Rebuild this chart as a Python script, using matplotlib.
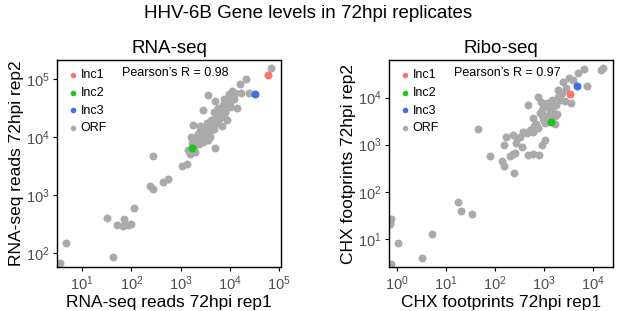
import numpy as np
import matplotlib
matplotlib.use('Agg')
from matplotlib import pyplot as plt
from matplotlib.ticker import LogLocator, NullLocator

plt.rcParams['font.family'] = ['Liberation Sans', 'DejaVu Sans']
plt.rcParams['mathtext.default'] = 'regular'

# log10 values
# RNA-seq: (rep1, rep2)
rna_inc1 = (4.77, 5.07)
rna_inc2 = (3.24, 3.81)
rna_inc3 = (4.52, 4.74)
rna_orf_rep1 = [4.83, 4.33, 4.21, 4.04, 3.99, 4.23, 4.40, 4.11, 3.55, 3.70, 3.89, 4.08,
                4.01, 4.14, 3.91, 3.67, 3.45, 3.77, 3.80, 3.94, 3.53, 3.40, 3.26, 3.84,
                3.21, 3.40, 3.53, 3.60, 3.67, 3.33, 3.46, 3.69, 3.16, 3.19, 2.43, 3.02,
                3.14, 2.75, 2.65, 2.38, 2.43, 2.06, 1.51, 1.85, 1.70, 1.84, 1.94, 1.99,
                0.68, 1.62, 0.56, 3.28, 3.30, 3.36, 3.45, 3.50, 3.57, 3.62, 3.72, 3.75,
                3.82, 3.86, 3.95, 4.05, 3.58, 3.48, 3.38, 3.24, 3.30, 3.63, 3.70, 3.88,
                4.00, 3.55, 3.42]
rna_orf_rep2 = [5.20, 5.00, 4.91, 4.79, 4.74, 4.76, 4.76, 4.76, 4.73, 4.62, 4.65, 4.65,
                4.58, 4.51, 4.43, 4.43, 4.46, 4.51, 4.33, 4.29, 4.25, 4.20, 4.21, 4.20,
                4.00, 4.11, 4.11, 4.00, 4.14, 3.94, 3.91, 3.81, 3.77, 3.71, 3.68, 3.50,
                3.53, 3.28, 3.22, 3.15, 3.11, 2.77, 2.61, 2.58, 2.48, 2.47, 2.49, 2.50,
                2.18, 1.93, 1.83, 3.85, 3.98, 4.05, 4.02, 4.15, 4.20, 4.30, 4.36, 4.25,
                4.45, 4.55, 4.60, 4.70, 4.06, 4.10, 3.88, 3.90, 3.75, 4.18, 4.28, 4.38,
                4.52, 3.95, 3.98]

# Ribo-seq: (rep1, rep2)
ribo_inc1 = (3.54, 4.07)
ribo_inc2 = (3.14, 3.48)
ribo_inc3 = (3.69, 4.25)
ribo_orf_rep1 = [4.18, 4.22, 3.82, 3.71, 3.52, 3.40, 3.88, 3.30, 3.43, 3.55, 3.30, 3.16,
                 3.26, 3.06, 2.89, 2.68, 2.99, 3.13, 2.92, 2.79, 2.99, 3.23, 3.23, 3.02,
                 2.89, 1.66, 2.72, 2.58, 2.79, 2.38, 2.51, 2.23, 2.43, 3.02, 2.96, 2.19,
                 2.55, 2.38, 2.31, 2.68, 2.79, 2.91, 1.90, 2.14, 2.19, 2.39, 1.24, 1.30,
                 1.54, -0.13, -0.15, 0.72, 0.02, 0.50, -0.12, 2.42, 2.95, 3.05, 3.10, 3.20,
                 3.00, 2.85, 2.80, 3.08, 3.18, 3.35, 3.28, 2.95, 3.12, 2.65, 2.45, 3.38,
                 3.45, 3.60]
ribo_orf_rep2 = [4.59, 4.62, 4.60, 4.53, 4.41, 4.34, 4.25, 4.16, 3.92, 3.88, 4.02, 3.94,
                 3.84, 3.89, 4.02, 3.84, 3.77, 3.74, 3.67, 3.56, 3.56, 3.60, 3.44, 3.46,
                 3.35, 3.33, 3.31, 3.28, 3.28, 3.21, 3.16, 3.17, 3.03, 3.09, 3.00, 3.00,
                 2.95, 2.80, 2.76, 2.78, 2.80, 2.78, 2.76, 2.66, 2.54, 2.39, 1.79, 1.60,
                 1.53, 1.42, 1.32, 1.11, 0.91, 0.60, 0.47, 2.83, 3.70, 3.60, 3.80, 3.70,
                 3.50, 3.45, 3.40, 3.52, 3.85, 3.95, 3.66, 3.90, 3.62, 3.25, 3.15, 4.10,
                 4.20, 4.38]

rna_r = 0.98
ribo_r = 0.97

grey = '#AAAAAA'
cols = {'Inc1': '#F8766D', 'Inc2': '#1EC31E', 'Inc3': '#3F6FE3'}

fig = plt.figure(figsize=(6.17, 3.11), dpi=100)
fig.suptitle('HHV-6B Gene levels in 72hpi replicates', fontsize=13.5, y=0.985)

W, H = 617, 311
ax1 = fig.add_axes([57 / W, 1 - 267 / H, 224 / W, 207 / H])
ax2 = fig.add_axes([389 / W, 1 - 267 / H, 224 / W, 207 / H])


def panel(ax, orf_x, orf_y, incs, r, title, xlab, ylab, xlim, ylim):
    ax.scatter(10 ** np.array(orf_x), 10 ** np.array(orf_y), s=33, color=grey,
               linewidths=0, label='ORF', zorder=2)
    for name, (x, y) in incs:
        ax.scatter([10 ** x], [10 ** y], s=33, color=cols[name], linewidths=0,
                   label=name, zorder=3)
    ax.set_xscale('log')
    ax.set_yscale('log')
    ax.set_xlim(10 ** xlim[0], 10 ** xlim[1])
    ax.set_ylim(10 ** ylim[0], 10 ** ylim[1])
    for axis in (ax.xaxis, ax.yaxis):
        axis.set_major_locator(LogLocator(base=10, numticks=10))
        axis.set_minor_locator(NullLocator())
    ax.tick_params(labelsize=10.5, labelcolor='#4D4D4D', length=3, width=0.8, pad=2)
    for sp in ax.spines.values():
        sp.set_linewidth(1.0)
    ax.set_title(title, fontsize=13.5, pad=5)
    ax.set_xlabel(xlab, fontsize=12.5, labelpad=2)
    ax.set_ylabel(ylab, fontsize=12.5, labelpad=2)
    h, l = ax.get_legend_handles_labels()
    order = [l.index(n) for n in ['Inc1', 'Inc2', 'Inc3', 'ORF']]
    ax.legend([h[i] for i in order], [l[i] for i in order], loc='upper left',
              frameon=False, fontsize=9, markerscale=0.7, handletextpad=0.05,
              labelspacing=0.45, borderaxespad=0.35, handlelength=1.1)
    ax.text(0.53, 0.935, "Pearson\u2019s R = %.2f" % r, transform=ax.transAxes,
            ha='center', va='center', fontsize=9)


panel(ax1, rna_orf_rep1, rna_orf_rep2,
      [('Inc1', rna_inc1), ('Inc2', rna_inc2), ('Inc3', rna_inc3)],
      rna_r, 'RNA-seq', 'RNA-seq reads 72hpi rep1', 'RNA-seq reads 72hpi rep2',
      (0.49, 5.04), (1.76, 5.33))
panel(ax2, ribo_orf_rep1, ribo_orf_rep2,
      [('Inc1', ribo_inc1), ('Inc2', ribo_inc2), ('Inc3', ribo_inc3)],
      ribo_r, 'Ribo-seq', 'CHX footprints 72hpi rep1', 'CHX footprints 72hpi rep2',
      (-0.17, 4.42), (0.40, 4.80))

fig.savefig('out.png', dpi=100)
